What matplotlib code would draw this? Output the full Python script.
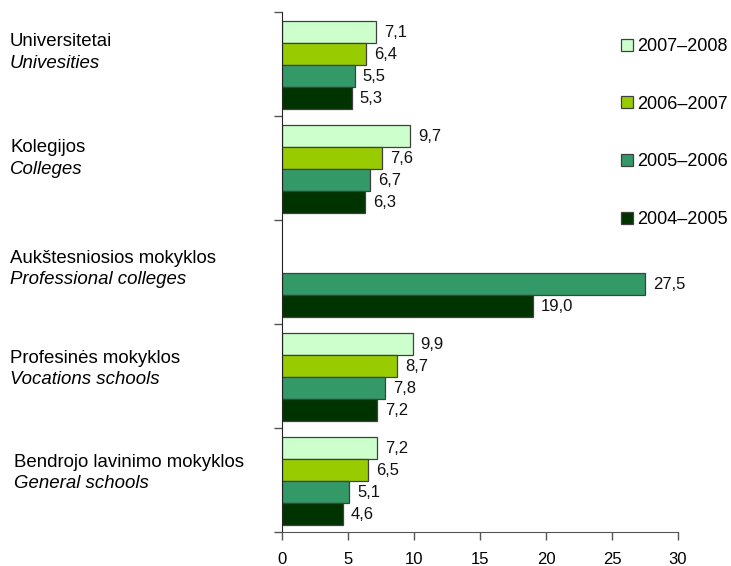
import matplotlib.pyplot as plt
import numpy as np
from matplotlib.patches import Patch

plt.rcParams['font.family'] = ['Liberation Sans', 'DejaVu Sans']

# data
cat_lt = ['Universitetai', 'Kolegijos', 'Aukštesniosios mokyklos',
          'Profesinės mokyklos', 'Bendrojo lavinimo mokyklos']
cat_en = ['Univesities', 'Colleges', 'Professional colleges',
          'Vocations schools', 'General schools']
years = ['2007–2008', '2006–2007', '2005–2006', '2004–2005']
v0708 = [7.1, 9.7, None, 9.9, 7.2]
v0607 = [6.4, 7.6, None, 8.7, 6.5]
v0506 = [5.5, 6.7, 27.5, 7.8, 5.1]
v0405 = [5.3, 6.3, 19.0, 7.2, 4.6]
xticks = [0, 5, 10, 15, 20, 25, 30]

series = [v0708, v0607, v0506, v0405]
colors = ['#CCFFCC', '#99CC00', '#339966', '#003300']

W, H = 731, 566
fig = plt.figure(figsize=(W/100, H/100), dpi=100)
ax = fig.add_axes([282/W, 1-532/H, (678-282)/W, (532-12)/H])

bh = 0.212
start = 0.0865
for k, (vals, c) in enumerate(zip(series, colors)):
    for i, v in enumerate(vals):
        if v is None:
            continue
        y = i + start + (k + 0.5)*bh
        ax.barh(y, v, height=bh, color=c, edgecolor='#404040', linewidth=0.9)
        ax.text(v + 0.6, y, ('%.1f' % v).replace('.', ','), va='center',
                ha='left', fontsize=12, color='#111111')

ax.set_ylim(5, 0)
ax.set_xlim(0, 30)
ax.set_yticks(np.arange(6))
ax.set_yticklabels([])
ax.set_xticks(xticks)
ax.set_xticklabels([str(t) for t in xticks], fontsize=12)
ax.tick_params(axis='both', length=6, width=1, color='#555555', direction='out')
ax.tick_params(axis='x', pad=8.5)
for s in ['top', 'right']:
    ax.spines[s].set_visible(False)
ax.spines['left'].set_color('#222222')
ax.spines['bottom'].set_color('#555555')

# category labels (baselines in pixels)
lab_x = [10, 10, 10, 10, 14]
lab_y1 = [46, 152, 263, 363, 467]
for i in range(5):
    fig.text(lab_x[i]/W, 1-lab_y1[i]/H, cat_lt[i], fontsize=13.4, va='baseline')
    fig.text(lab_x[i]/W, 1-(lab_y1[i]+21.5)/H, cat_en[i], fontsize=13.4,
             va='baseline', style='italic')

handles = [Patch(facecolor=c, edgecolor='#404040', linewidth=0.9) for c in colors]
fig.legend(handles, years, loc='upper left', bbox_to_anchor=(621/W, 1-38/H),
           bbox_transform=fig.transFigure, frameon=False, fontsize=13,
           handlelength=0.65, handleheight=0.65, handletextpad=0.25,
           labelspacing=2.25, borderpad=0, borderaxespad=0)

fig.savefig('out.png', dpi=100)
